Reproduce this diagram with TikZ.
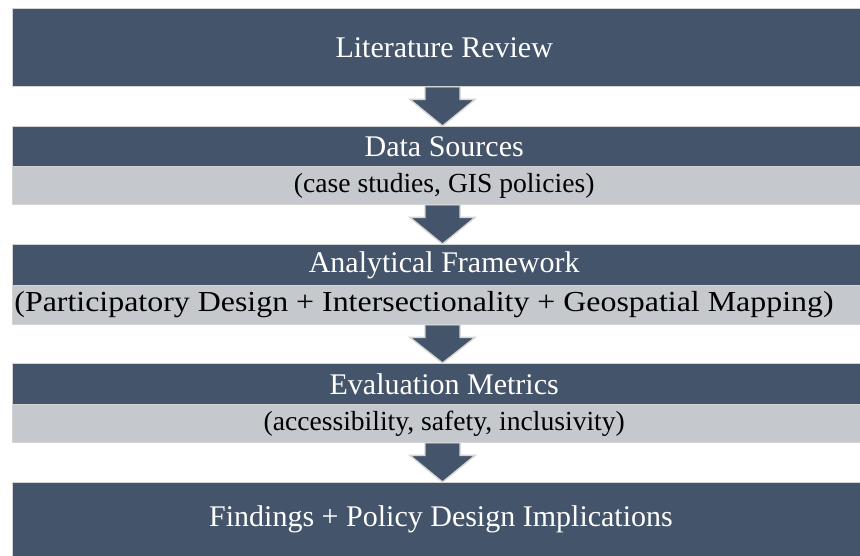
\documentclass[tikz,border=0pt]{standalone}
\usepackage{fontspec}
\setmainfont{Liberation Serif}
\usetikzlibrary{calc}
\definecolor{darkbox}{HTML}{44546A}
\definecolor{lightbox}{HTML}{C5C8CC}
\definecolor{edgegray}{HTML}{D4D4D4}
\tikzset{
  headbox/.style={draw=edgegray, line width=1.4pt, fill=darkbox, text=white,
    minimum width=863pt, inner sep=0pt, anchor=north west,
    font=\fontsize{30}{34}\selectfont},
  subbox/.style={draw=edgegray, line width=1.4pt, fill=lightbox, text=black,
    minimum width=863pt, inner sep=0pt, anchor=north west,
    font=\fontsize{27.6}{32}\selectfont},
  subtext/.style={inner sep=0pt, text=black, font=\fontsize{29}{33}\selectfont},
  arrowfill/.style={fill=darkbox, draw=none},
  arrowedge/.style={draw=edgegray, line width=1.4pt, line join=miter},
}
\newcommand\flowarrow[2]{%
  \fill[arrowfill] (#1.south -| sl) -- ($(#1.south -| sl)+(0,12)$) -- ($(#1.south -| hl)+(0,12)$)
    -- (#2.north -| tp) -- ($(#1.south -| hr)+(0,12)$) -- ($(#1.south -| sr)+(0,12)$) -- (#1.south -| sr) -- cycle;
  \draw[arrowedge] (#1.south -| sl) -- ($(#1.south -| sl)+(0,12)$) -- ($(#1.south -| hl)+(0,12)$)
    -- (#2.north -| tp) -- ($(#1.south -| hr)+(0,12)$) -- ($(#1.south -| sr)+(0,12)$) -- (#1.south -| sr);
}
\begin{document}
\begin{tikzpicture}[x=1pt,y=-1pt]
\useasboundingbox (0,0) rectangle (860,556);
\clip (0,0) rectangle (860,556);
\fill[white] (0,0) rectangle (860,556);
\coordinate (sl) at (425,0);
\coordinate (sr) at (460,0);
\coordinate (hl) at (410,0);
\coordinate (hr) at (475,0);
\coordinate (tp) at (442.5,0);

\node[headbox, minimum height=78pt] (lit) at (12,8) {Literature Review};

\node[headbox, minimum height=40pt] (data) at (12,126) {Data Sources};
\node[subbox, minimum height=38pt] (datas) at (12,166) {(case studies, GIS policies)};

\node[headbox, minimum height=41pt] (ana) at (12,244) {Analytical Framework};
\node[subbox, minimum height=39pt] (anas) at (12,285) {};
\node[subtext, xscale=1.1, transform shape] (anat) at (424,304.5) {(Participatory Design + Intersectionality + Geospatial Mapping)};

\node[headbox, minimum height=41pt] (eval) at (12,363) {Evaluation Metrics};
\node[subbox, minimum height=38pt] (evals) at (12,404) {(accessibility, safety, inclusivity)};

\node[headbox, minimum height=80pt] (find) at (12,482) {};
\node[inner sep=0pt, text=white, font=\fontsize{30}{34}\selectfont] (findt) at (441,519) {Findings + Policy Design Implications};

\flowarrow{lit}{data}
\flowarrow{datas}{ana}
\flowarrow{anas}{eval}
\flowarrow{evals}{find}
\end{tikzpicture}
\end{document}
